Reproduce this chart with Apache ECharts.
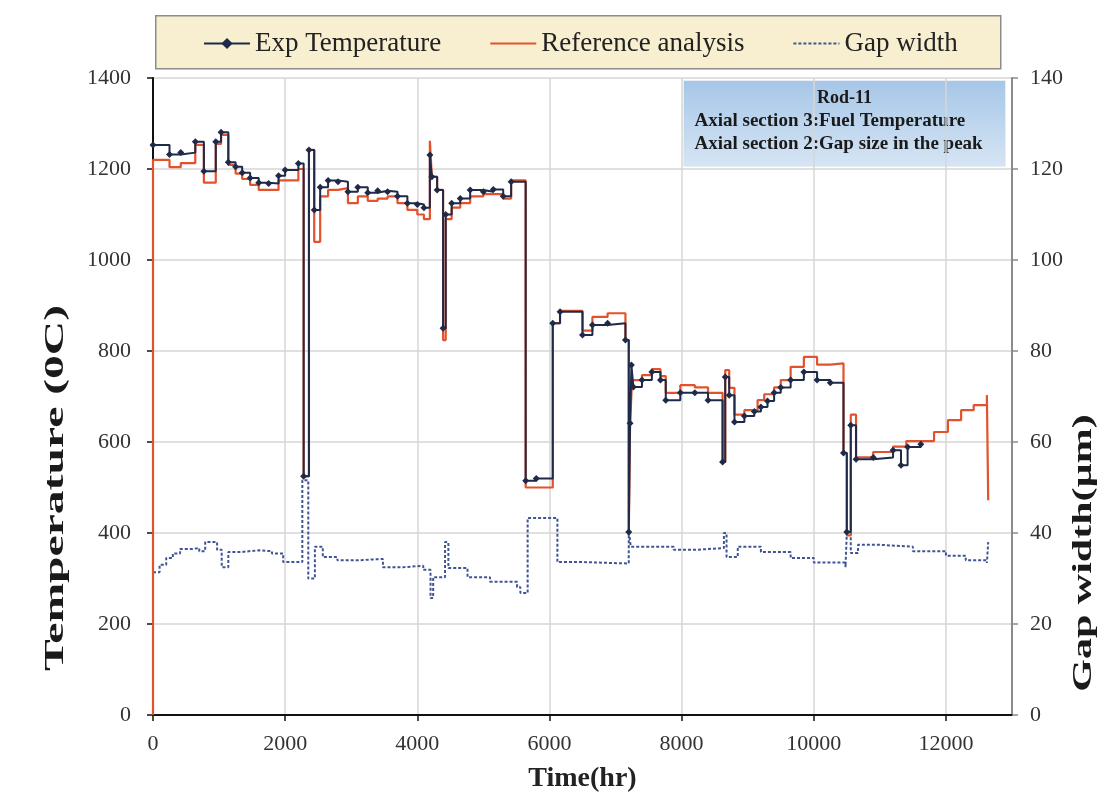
<!DOCTYPE html>
<html>
<head>
<meta charset="utf-8">
<script src="https://cdn.jsdelivr.net/npm/echarts@6/dist/echarts.min.js"></script>
<style>
html,body{margin:0;padding:0;background:#ffffff;}
#chart{width:1098px;height:801px;}
</style>
</head>
<body>
<div id="chart"></div>
<script>
// ---- Data ----
const expTime = [0,250,420,640,770,950,1030,1140,1250,1350,1470,1600,1750,1900,2000,2200,2280,2360,2440,2530,2650,2800,2950,3100,3250,3400,3550,3700,3850,4000,4100,4190,4220,4300,4390,4430,4520,4650,4800,5000,5150,5300,5420,5640,5800,6050,6160,6500,6650,6880,7150,7200,7220,7240,7270,7400,7550,7680,7760,7980,8200,8400,8620,8660,8720,8800,8950,9100,9200,9300,9400,9500,9650,9850,10050,10250,10450,10500,10560,10640,10900,11200,11320,11420,11620];
const expTemp = [1253,1232,1236,1260,1195,1260,1281,1215,1205,1192,1180,1170,1168,1185,1198,1212,525,1242,1110,1160,1175,1172,1150,1160,1148,1152,1150,1140,1125,1122,1115,1231,1183,1154,850,1100,1125,1135,1154,1150,1155,1140,1172,515,520,861,886,835,857,861,824,402,641,769,721,736,754,736,692,708,708,692,556,743,703,644,657,667,677,690,708,720,736,754,736,730,576,402,637,562,566,582,549,589,595];

const refTime = [0,0,250,420,640,770,950,1030,1140,1250,1350,1470,1600,1900,2200,2280,2360,2440,2530,2650,2800,2950,3100,3250,3400,3550,3700,3850,4000,4100,4190,4220,4300,4390,4430,4520,4650,4800,5000,5300,5420,5640,5800,6050,6160,6500,6650,6880,7150,7200,7220,7250,7400,7550,7680,7760,7980,8200,8400,8620,8660,8720,8800,8950,9150,9250,9400,9500,9650,9850,10050,10250,10450,10500,10560,10640,10900,11200,11400,11600,11820,12030,12230,12420,12620,12640];
const refTemp = [0,1220,1204,1213,1253,1170,1255,1275,1209,1190,1178,1165,1154,1175,1200,525,1242,1040,1140,1154,1158,1125,1140,1130,1135,1140,1125,1110,1100,1090,1262,1183,1154,824,1090,1115,1125,1140,1145,1135,1175,500,500,861,888,845,875,883,824,395,640,736,747,760,745,708,725,720,708,556,758,719,660,670,692,705,720,736,765,787,770,773,576,395,660,566,578,590,602,602,622,648,670,681,703,472];

const gapTime = [0,100,200,300,410,600,700,790,970,1040,1140,1320,1600,1800,1970,2260,2350,2450,2570,2790,3100,3480,3800,4090,4200,4240,4420,4470,4760,5100,5510,5560,5670,6120,6520,7200,7230,7880,8200,8640,8680,8850,9200,9650,10000,10480,10500,10560,10670,11000,11500,12000,12300,12620,12640];
const gapWidth = [31.4,33,34.5,35.5,36.5,36.7,36,38,36.3,32.5,35.8,36.2,36,35.5,33.6,51.6,30,37,34.7,34,34.3,32.5,32.8,31.9,25.7,30.3,38,32.3,30.3,29.3,28.1,26.8,43.3,33.6,33.3,40.6,37,36.3,36.7,40,34.7,37,35.8,34.5,33.5,32.5,40,35.6,37.4,37,36,35,34,33.4,38];

const tempTicks = [0,200,400,600,800,1000,1200,1400];
const gapTicks = [0,20,40,60,80,100,120,140];
const timeTicks = [0,2000,4000,6000,8000,10000,12000];

const seriesNames = ['Exp Temperature','Reference analysis','Gap width'];
const boxLines = ['Rod-11','Axial section 3:Fuel Temperature','Axial section 2:Gap size in the peak'];
const titles = {x:'Time(hr)', yLeft:'Temperature (0C)', yRight:'Gap width(\u00b5m)'};

const zip = (a,b) => a.map((v,i)=>[v,b[i]]);

const FONT = "'Liberation Serif','Times New Roman',serif";
const chart = echarts.init(document.getElementById('chart'), null, {renderer:'canvas'});

const option = {
  backgroundColor:'#ffffff',
  animation:false,
  grid:{left:153,right:86,top:78,bottom:86,containLabel:false},
  legend:{
    data:[
      {name:seriesNames[0]},
      {name:seriesNames[1],itemStyle:{opacity:0}},
      {name:seriesNames[2],itemStyle:{opacity:0}}
    ],
    left:198, top:25,
    itemWidth:46, itemHeight:14, itemGap:48,
    textStyle:{fontFamily:FONT,fontSize:27,color:'#222'},
    backgroundColor:'transparent'
  },
  xAxis:{
    type:'value', min:0, max:13000, interval:2000,
    name:titles.x, nameLocation:'middle', nameGap:50,
    nameTextStyle:{fontFamily:FONT,fontSize:28,fontWeight:'bold',color:'#222'},
    axisLine:{show:true,lineStyle:{color:'#111',width:2}},
    axisTick:{show:true,length:6,lineStyle:{color:'#111',width:1.5}},
    axisLabel:{fontFamily:FONT,fontSize:22,color:'#333',margin:18,showMaxLabel:false,
      formatter:v=>timeTicks.includes(v)?String(v):''},
    splitLine:{show:true,lineStyle:{color:'#d6d6d6',width:1.5}}
  },
  yAxis:[{
    type:'value', min:0, max:1400, interval:200, position:'left',
    axisLine:{show:true,lineStyle:{color:'#111',width:2}},
    axisTick:{show:true,length:6,lineStyle:{color:'#111',width:1.5}},
    axisLabel:{fontFamily:FONT,fontSize:22,color:'#333',margin:22,
      formatter:v=>tempTicks.includes(v)?String(v):''},
    splitLine:{show:true,lineStyle:{color:'#d6d6d6',width:1.5}}
  },{
    type:'value', min:0, max:140, interval:20, position:'right',
    axisLine:{show:true,lineStyle:{color:'#8a8a8a',width:2}},
    axisTick:{show:true,length:6,lineStyle:{color:'#8a8a8a',width:1.5}},
    axisLabel:{fontFamily:FONT,fontSize:22,color:'#333',margin:18,
      formatter:v=>gapTicks.includes(v)?String(v):''},
    splitLine:{show:false}
  }],
  graphic:[
    {type:'rect',left:155,top:15,z:-1,shape:{width:845,height:53},
      style:{fill:'#f7efcf',stroke:'#8c8c8c',lineWidth:1.5}},
    {type:'group',left:683,top:80,z:100,children:[
      {type:'rect',shape:{x:0,y:0,width:322,height:86},
        style:{fill:new echarts.graphic.LinearGradient(0,0,0,1,[{offset:0,color:'#a6c6e8'},{offset:1,color:'#d6e5f4'}]),stroke:'#e6eef8',lineWidth:1}},
      {type:'text',x:161,y:18,style:{text:boxLines[0],align:'center',verticalAlign:'middle',font:"bold 18px "+FONT,fill:'#1a1a1a'}},
      {type:'text',x:11,y:41,style:{text:boxLines[1],align:'left',verticalAlign:'middle',font:"bold 19px "+FONT,fill:'#1a1a1a'}},
      {type:'text',x:11,y:64,style:{text:boxLines[2],align:'left',verticalAlign:'middle',font:"bold 19px "+FONT,fill:'#1a1a1a'}}
    ]},
    {type:'text',x:56,y:488,rotation:Math.PI/2,scaleX:1.7,
      style:{text:titles.yLeft,align:'center',verticalAlign:'middle',font:"bold 28px "+FONT,fill:'#1a1a1a'}},
    {type:'text',x:1084,y:553,rotation:Math.PI/2,scaleX:1.5,
      style:{text:titles.yRight,align:'center',verticalAlign:'middle',font:"bold 28px "+FONT,fill:'#1a1a1a'}}
  ],
  series:[
    {name:seriesNames[2],type:'line',yAxisIndex:1,step:'end',data:zip(gapTime,gapWidth),
      showSymbol:false,symbol:'none',lineStyle:{color:'#3f5494',width:2,type:[3,2]},itemStyle:{color:'#3f5494'},z:2},
    {name:seriesNames[1],type:'line',yAxisIndex:0,step:'end',data:zip(refTime,refTemp),
      showSymbol:false,symbol:'none',lineStyle:{color:'#e2532d',width:2.2},itemStyle:{color:'#e2532d'},z:3},
    {name:seriesNames[0],type:'line',yAxisIndex:0,step:'end',data:zip(expTime,expTemp),
      symbol:'diamond',symbolSize:7,showAllSymbol:true,lineStyle:{color:'#1f2a48',width:2},itemStyle:{color:'#1f2a48'},z:4}
  ]
};
chart.setOption(option);
</script>
</body>
</html>
